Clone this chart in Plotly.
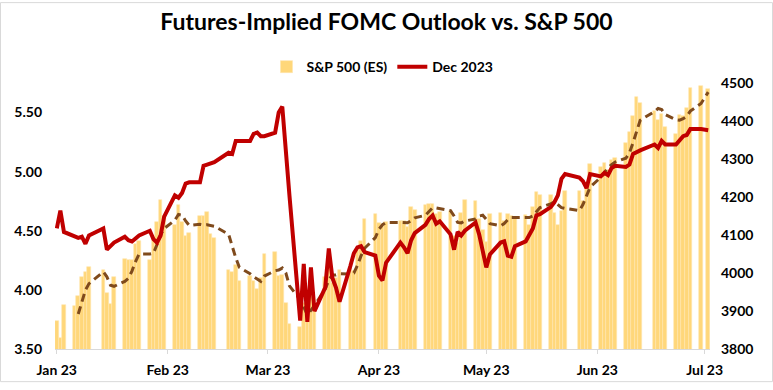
import plotly.graph_objects as go

# ---- data ----
dates = [
    "2023-01-04", "2023-01-05", "2023-01-06", "2023-01-09", "2023-01-10", "2023-01-11", "2023-01-12", "2023-01-13",
    "2023-01-17", "2023-01-18", "2023-01-19", "2023-01-20", "2023-01-23", "2023-01-24", "2023-01-25", "2023-01-26",
    "2023-01-27", "2023-01-30", "2023-01-31",
    "2023-02-01", "2023-02-02", "2023-02-03", "2023-02-06", "2023-02-07", "2023-02-08", "2023-02-09", "2023-02-10",
    "2023-02-13", "2023-02-14", "2023-02-15", "2023-02-16", "2023-02-17", "2023-02-21", "2023-02-22", "2023-02-23",
    "2023-02-24", "2023-02-27", "2023-02-28",
    "2023-03-01", "2023-03-02", "2023-03-03", "2023-03-06", "2023-03-07", "2023-03-08", "2023-03-09", "2023-03-10",
    "2023-03-13", "2023-03-14", "2023-03-15", "2023-03-16", "2023-03-17", "2023-03-20", "2023-03-21", "2023-03-22",
    "2023-03-23", "2023-03-24", "2023-03-27", "2023-03-28", "2023-03-29", "2023-03-30", "2023-03-31",
    "2023-04-03", "2023-04-04", "2023-04-05", "2023-04-06", "2023-04-10", "2023-04-11", "2023-04-12", "2023-04-13",
    "2023-04-14", "2023-04-17", "2023-04-18", "2023-04-19", "2023-04-20", "2023-04-21", "2023-04-24", "2023-04-25",
    "2023-04-26", "2023-04-27", "2023-04-28",
    "2023-05-01", "2023-05-02", "2023-05-03", "2023-05-04", "2023-05-05", "2023-05-08", "2023-05-09", "2023-05-10",
    "2023-05-11", "2023-05-12", "2023-05-15", "2023-05-16", "2023-05-17", "2023-05-18", "2023-05-19", "2023-05-22",
    "2023-05-23", "2023-05-24", "2023-05-25", "2023-05-26", "2023-05-30", "2023-05-31",
    "2023-06-01", "2023-06-02", "2023-06-05", "2023-06-06", "2023-06-07", "2023-06-08", "2023-06-09", "2023-06-12",
    "2023-06-13", "2023-06-14", "2023-06-15", "2023-06-16", "2023-06-20", "2023-06-21", "2023-06-22", "2023-06-23",
    "2023-06-26", "2023-06-27", "2023-06-28", "2023-06-29", "2023-06-30",
    "2023-07-03", "2023-07-05",
]

sp500_es = [
    3873, 3828, 3915, 3912, 3939, 3990, 4003, 4016,
    4008, 3948, 3918, 3990, 4036, 4033, 4033, 4076,
    4085, 4034, 4093,
    4134, 4193, 4150, 4126, 4179, 4133, 4097, 4105,
    4150, 4149, 4160, 4103, 4091, 4008, 4002, 4022,
    3979, 3991, 3978,
    3958, 3988, 4051, 4054, 3991, 3996, 3922, 3865,
    3858, 3921, 3893, 3962, 3918, 3990, 4041, 3975,
    3986, 4008, 4013, 4006, 4063, 4085, 4143,
    4155, 4131, 4120, 4135, 4138, 4138, 4121, 4174,
    4166, 4178, 4182, 4181, 4156, 4160, 4162, 4097,
    4080, 4159, 4192,
    4190, 4142, 4112, 4082, 4156, 4157, 4138, 4156,
    4149, 4141, 4152, 4126, 4174, 4213, 4206, 4206,
    4158, 4127, 4162, 4216, 4216, 4189,
    4228, 4288, 4279, 4289, 4272, 4298, 4302, 4341,
    4371, 4413, 4464, 4448, 4426, 4403, 4419, 4385,
    4366, 4415, 4414, 4433, 4487,
    4493, 4483,
]

sp500_avg = [
    None, None, None, None, 3892, 3925, 3955, 3972,
    4003, 3990, 3968, 3965, 3978, 3986, 4005, 4030,
    4050, 4050, 4052,
    4075, 4100, 4117, 4139, 4154, 4152, 4137, 4125,
    4128, 4126, 4127, 4125, 4123, 4102, 4070, 4040,
    4015, 3998, 3990,
    3984, 3978, 3992, 4006, 4008, 4013, 4000, 3966,
    3930, 3908, 3890, 3902, 3914, 3958, 3982, 3995,
    3995, 3998, 3997, 4000, 4020, 4045, 4065,
    4093, 4115, 4127, 4133, 4133, 4132, 4132, 4138,
    4145, 4152, 4162, 4172, 4171, 4169, 4164, 4150,
    4133, 4132, 4137,
    4142, 4150, 4152, 4140, 4130, 4124, 4130, 4140,
    4146, 4146, 4146, 4146, 4150, 4160, 4172, 4182,
    4187, 4180, 4172, 4170, 4164, 4180,
    4205, 4226, 4252, 4265, 4277, 4285, 4292, 4302,
    4316, 4343, 4375, 4402, 4425, 4433, 4430, 4417,
    4403, 4402, 4406, 4412, 4426,
    4446, 4476,
]

dec_2023 = [
    4.52, 4.67, 4.49, 4.45, 4.44, 4.45, 4.39, 4.46,
    4.52, 4.34, 4.37, 4.40, 4.45, 4.42, 4.41, 4.44,
    4.46, 4.50, 4.43,
    4.40, 4.46, 4.62, 4.80, 4.78, 4.82, 4.90, 4.91,
    4.91, 5.05, 5.06, 5.07, 5.08, 5.16, 5.15, 5.26,
    5.26, 5.26, 5.32,
    5.33, 5.30, 5.30, 5.33, 5.50, 5.55, 5.15, 4.80,
    3.74, 4.22, 3.73, 4.19, 3.82, 4.02, 4.35, 4.10,
    4.02, 3.90, 4.20, 4.31, 4.36, 4.37, 4.32,
    4.29, 4.12, 4.08, 4.23, 4.40, 4.36, 4.31, 4.42,
    4.48, 4.55, 4.60, 4.63, 4.56, 4.58, 4.47, 4.34,
    4.49, 4.46, 4.50,
    4.57, 4.47, 4.33, 4.19, 4.30, 4.40, 4.41, 4.29,
    4.28, 4.37, 4.41, 4.46, 4.52, 4.63, 4.64, 4.70,
    4.74, 4.80, 4.94, 4.98, 4.95, 4.92,
    4.86, 4.98, 4.96, 4.99, 4.97, 5.03, 5.05, 5.04,
    5.06, 5.15, 5.17, 5.18, 5.23, 5.20, 5.26, 5.23,
    5.23, 5.27, 5.30, 5.31, 5.36,
    5.36, 5.35,
]

tick_dates = ["2023-01-04", "2023-02-04", "2023-03-04", "2023-04-04",
              "2023-05-04", "2023-06-04", "2023-07-04"]
tick_labels = ["Jan 23", "Feb 23", "Mar 23", "Apr 23", "May 23", "Jun 23", "Jul 23"]
rate_ticks = [3.5, 4.0, 4.5, 5.0, 5.5]
sp_ticks = [3800, 3900, 4000, 4100, 4200, 4300, 4400, 4500]

# ---- figure ----
FONT = "Lato, 'Liberation Sans', sans-serif"
DAY_MS = 86400000

fig = go.Figure()

fig.add_trace(go.Bar(
    x=dates, y=sp500_es, name="S&P 500 (ES)",
    marker=dict(color="#FFD77A", line=dict(width=0.6, color="#FFE6AE")),
    width=DAY_MS * 1.0, yaxis="y",
))
fig.add_trace(go.Scatter(
    x=dates, y=sp500_avg, mode="lines", showlegend=False,
    line=dict(color="#7F4A1C", width=3, dash="8px,5px"),
    connectgaps=False, yaxis="y",
))
fig.add_trace(go.Scatter(
    x=dates, y=dec_2023, mode="lines", name="Dec 2023",
    line=dict(color="#C00000", width=4), yaxis="y2",
))

tickfont = dict(family=FONT, size=14, color="#000000", weight="bold")

fig.update_layout(
    width=773, height=390,
    margin=dict(l=55, r=63, t=83, b=34),
    paper_bgcolor="white", plot_bgcolor="white",
    title=dict(text="Futures-Implied FOMC Outlook vs. S&P 500",
               font=dict(family=FONT, size=23, color="#000000", weight="bold"),
               x=0.5, xanchor="center", xref="container",
               y=0.944, yanchor="middle", yref="container"),
    legend=dict(orientation="h", x=0.5, xanchor="center", y=1.06, yanchor="middle",
                font=dict(family=FONT, size=14, color="#000000", weight="bold"),
                bgcolor="rgba(0,0,0,0)", traceorder="normal"),
    bargap=0,
    showlegend=True,
    xaxis=dict(type="date", range=["2023-01-03 12:00", "2023-07-05 12:00"],
               tickvals=tick_dates, ticktext=tick_labels, tickfont=tickfont,
               showgrid=False, zeroline=False, showline=True, linecolor="#D9D9D9", linewidth=1,
               ticks="outside", ticklen=4, tickcolor="#D9D9D9", ticklabelstandoff=4),
    yaxis=dict(side="right", range=[3800, 4500], tickvals=sp_ticks, tickfont=tickfont,
               showgrid=False, zeroline=False, showline=False, ticks="",
               ticklabelstandoff=10),
    yaxis2=dict(side="left", overlaying="y", range=[3.5, 5.75], tickvals=rate_ticks,
                tickformat=".2f", tickfont=tickfont,
                showgrid=False, zeroline=False, showline=False, ticks="",
                ticklabelstandoff=12),
    shapes=[dict(type="rect", xref="paper", yref="paper",
                 x0=-54.5 / 655, x1=717.5 / 655, y0=-33.5 / 273, y1=355.5 / 273,
                 line=dict(color="#D9D9D9", width=1), fillcolor="rgba(0,0,0,0)", layer="below")],
)

fig.write_html("out.html", config={"displayModeBar": False},
               post_script="document.body.style.margin='0';")
